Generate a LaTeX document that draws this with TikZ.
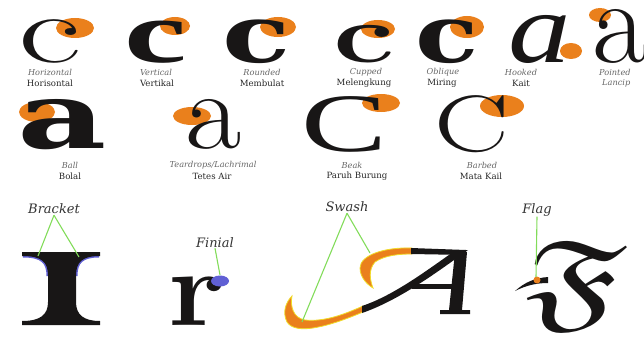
\documentclass[tikz,border=0pt]{standalone}
\usepackage{fontspec}
\usepackage{amssymb}
\newfontfamily\labelfont{DejaVu Serif}
\newfontfamily\libserif{Liberation Serif}
\newfontfamily\dvserif{DejaVu Serif}
\definecolor{termorange}{RGB}{234,128,28}
\definecolor{glyphink}{RGB}{24,22,22}
\definecolor{leadgreen}{RGB}{130,220,90}
\definecolor{finialblue}{RGB}{96,96,212}
\definecolor{swashrim}{RGB}{240,220,40}
\newcommand\gsize[1]{\fontsize{#1}{#1}\selectfont}

\begin{document}
\begin{tikzpicture}[
    x=1pt, y=-1pt,
    glyph/.style={inner sep=0pt, anchor=base, text=glyphink},
    term/.style={fill=termorange},
    engl/.style={inner sep=0pt, font=\labelfont\itshape\gsize{8.2}, text=black!60},
    indo/.style={inner sep=0pt, font=\labelfont\gsize{8.6}, text=black!85},
    callout/.style={inner sep=0pt, font=\labelfont\itshape\gsize{13}, text=black!80},
    lead/.style={draw=leadgreen, line width=1.1pt},
]
\useasboundingbox (0,0) rectangle (644,342);

% row 1: terminals of c and a
\fill[term] (75,28)  ellipse [x radius=19, y radius=10];
\fill[term] (175,26) ellipse [x radius=15, y radius=9];
\fill[term] (278,27) ellipse [x radius=18, y radius=10];
\fill[term] (378,29) ellipse [x radius=17, y radius=9];
\fill[term] (467,27) ellipse [x radius=17, y radius=11];
\fill[term] (571,51) ellipse [x radius=11, y radius=8];
\fill[term] (600,15) ellipse [x radius=11, y radius=7];

\node[glyph, font=\gsize{97}, xscale=1.6]                     (cHz) at (50,63)  {c};
\node[glyph, font=\libserif\bfseries\gsize{88}, xscale=1.6]   (cVt) at (156,63) {c};
\node[glyph, font=\dvserif\bfseries\gsize{80}, xscale=1.4]    (cRd) at (257,63) {c};
\node[glyph, font=\bfseries\gsize{82}, xscale=1.5]            (cCp) at (364,63) {c};
\node[glyph, font=\dvserif\bfseries\gsize{80}, xscale=1.3]    (cOb) at (447,63) {c};
\node[glyph, font=\libserif\itshape\gsize{100}, xscale=1.25]  (aHk) at (540,63) {a};
\node[glyph, font=\gsize{120}]                                (aPt) at (620,63) {a};

\node[engl] (hzEn) at (50,72)  {Horizontal};
\node[indo] (hzId) at (50,83)  {Horisontal};
\node[engl] (vtEn) at (156,72) {Vertical};
\node[indo] (vtId) at (157,83) {Vertikal};
\node[engl] (rdEn) at (262,72) {Rounded};
\node[indo] (rdId) at (262,83) {Membulat};
\node[engl] (cpEn) at (366,72) {Cupped};
\node[indo] (cpId) at (364,83) {Melengkung};
\node[engl] (obEn) at (443,72) {Oblique};
\node[indo] (obId) at (442,83) {Miring};
\node[engl] (hkEn) at (521,72) {Hooked};
\node[indo] (hkId) at (521,83) {Kait};
\node[engl, anchor=west] (ptEn) at (599,72) {Pointed};
\node[engl, anchor=west] (ptId) at (602,83) {Lancip};

% row 2
\fill[term] (37,112)  ellipse [x radius=18, y radius=10];
\fill[term] (192,116) ellipse [x radius=19, y radius=9];
\fill[term] (381,103) ellipse [x radius=19, y radius=9];
\fill[term] (502,106) ellipse [x radius=22, y radius=11];

\node[glyph, font=\dvserif\bfseries\gsize{92}, xscale=1.5]  (aBl) at (62,148)  {a};
\node[glyph, font=\gsize{111}, xscale=1.1]                  (aTd) at (214,148) {a};
\node[glyph, font=\libserif\gsize{83}, xscale=1.55]         (cBk) at (344,151) {C};
\node[glyph, font=\gsize{80}, xscale=1.4]                   (cBb) at (472,151) {C};

\node[engl] (blEn) at (70,165)  {Ball};
\node[indo] (blId) at (70,176)  {Bolal};
\node[engl] (tdEn) at (213,165) {Teardrops/Lachrimal};
\node[indo] (tdId) at (212,176) {Tetes Air};
\node[engl] (bkEn) at (352,165) {Beak};
\node[indo] (bkId) at (357,176) {Paruh Burung};
\node[engl] (bbEn) at (482,165) {Barbed};
\node[indo] (bbId) at (481,176) {Mata Kail};

% row 3: bracket
\draw[finialblue, line width=3pt] (23,256) .. controls (42,256) and (48,262) .. (48,276);
\draw[finialblue, line width=3pt] (99,256) .. controls (82,256) and (76,262) .. (76,276);
\fill[glyphink] (22,252) -- (100,252) -- (100,256)
  .. controls (82,256) and (76,262) .. (76,276) -- (76,302)
  .. controls (76,315) and (84,321) .. (100,321) -- (100,325) -- (22,325) -- (22,321)
  .. controls (40,321) and (48,315) .. (48,302) -- (48,276)
  .. controls (48,262) and (42,256) .. (22,256) -- cycle;
\coordinate (brkL) at (38,256);
\coordinate (brkR) at (79,257);
\node[callout] (brk) at (54,209) {Bracket};
\draw[lead] ([yshift=-1pt]brk.south) -- (brkL);
\draw[lead] ([yshift=-1pt]brk.south) -- (brkR);

% finial
\node[glyph, font=\bfseries\gsize{108}, xscale=1.15] (rFn) at (197,325) {r};
\fill[finialblue] (220,281) ellipse [x radius=9, y radius=5.5];
\coordinate (fnTip) at (220,275);
\node[callout] (fn) at (215,243) {Finial};
\draw[lead] (fn.south) -- (fnTip);

% swash
\fill[termorange, draw=swashrim, line width=0.8pt] (363,312)
  .. controls (330,326) and (296,336) .. (287,322)
  .. controls (282,312) and (286,302) .. (292,296)
  .. controls (290,306) and (293,318) .. (305,320)
  .. controls (325,322) and (345,314) .. (363,306) -- cycle;
\fill[termorange, draw=swashrim, line width=0.8pt] (412,248)
  .. controls (385,247) and (360,255) .. (360,268)
  .. controls (360,278) and (368,285) .. (373,288)
  .. controls (370,280) and (368,270) .. (375,262)
  .. controls (385,255) and (400,254) .. (412,254) -- cycle;
\fill[glyphink] (411,248) -- (466,250) -- (466,255) -- (411,254) -- cycle;
\fill[glyphink] (468,250) .. controls (440,270) and (400,300) .. (362,313)
  -- (362,306) .. controls (395,295) and (430,268) .. (456,250) -- cycle;
\fill[glyphink] (455,252) -- (467,252) -- (462,310) -- (470,310) -- (470,314)
  -- (440,314) -- (440,310) -- (449,310) -- cycle;
\fill[glyphink] (412,284) rectangle (456,289);
\coordinate (swLo) at (302,322);
\coordinate (swHi) at (370,253);
\node[callout] (sw) at (347,207) {Swash};
\draw[lead] ([yshift=-1pt]sw.south) -- (swLo);
\draw[lead] ([yshift=-1pt]sw.south) -- (swHi);

% flag
\node[glyph, font=\gsize{24.88}, scale=4.4, xscale=1.5] (fFl) at (576,316) {$\mathfrak{F}$};
\fill[glyphink] (515,291) .. controls (525,282) and (535,278) .. (548,277)
  -- (548,283) .. controls (535,283) and (525,286) .. (515,291) -- cycle;
\fill[termorange] (537,280) circle [radius=3.5];
\coordinate (flTip) at (536,277);
\node[callout] (fl) at (537,210) {Flag};
\draw[lead] (fl.south) -- (flTip);
\end{tikzpicture}
\end{document}
